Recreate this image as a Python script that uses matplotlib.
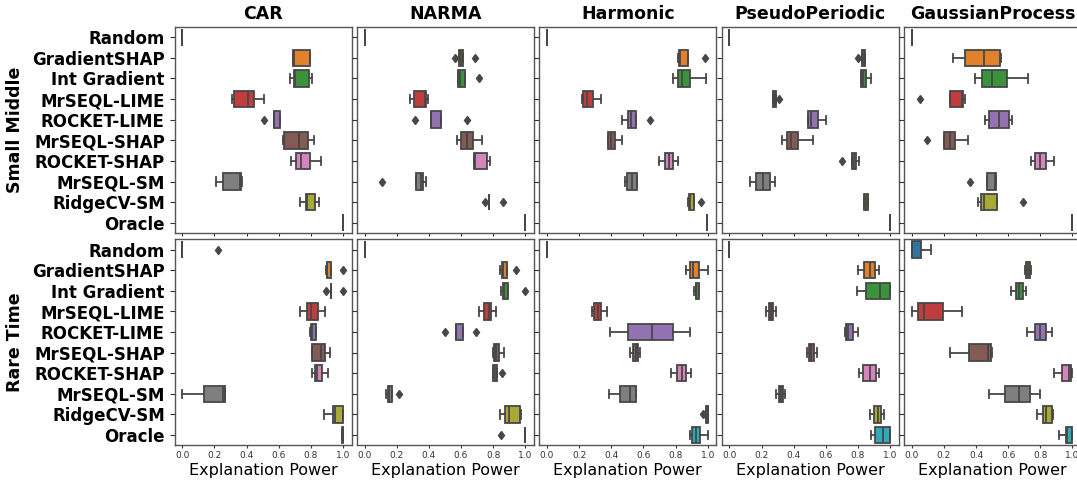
import colorsys
import matplotlib
matplotlib.use("Agg")
import matplotlib.pyplot as plt
import matplotlib.colors as mcolors

methods = ["Random", "GradientSHAP", "Int Gradient", "MrSEQL-LIME", "ROCKET-LIME",
           "MrSEQL-SHAP", "ROCKET-SHAP", "MrSEQL-SM", "RidgeCV-SM", "Oracle"]
datasets = ["CAR", "NARMA", "Harmonic", "PseudoPeriodic", "GaussianProcess"]
row_names = ["Small Middle", "Rare Time"]

# each row: (whislo, q1, median, q3, whishi, fliers), one per method
car_small = [
    (0, 0, 0, 0, 0, []),
    (0.688, 0.69, 0.697, 0.797, 0.797, []),
    (0.67, 0.697, 0.70, 0.786, 0.807, []),
    (0.307, 0.322, 0.407, 0.444, 0.506, []),
    (0.573, 0.573, 0.573, 0.608, 0.608, [0.51]),
    (0.629, 0.633, 0.724, 0.784, 0.822, []),
    (0.678, 0.707, 0.739, 0.797, 0.865, []),
    (0.21, 0.253, 0.36, 0.365, 0.37, []),
    (0.73, 0.772, 0.775, 0.828, 0.849, []),
    (1, 1, 1, 1, 1, []),
]
narma_small = [
    (0, 0, 0, 0, 0, []),
    (0.589, 0.589, 0.60, 0.61, 0.61, [0.56, 0.689]),
    (0.583, 0.583, 0.595, 0.624, 0.624, [0.712]),
    (0.282, 0.307, 0.375, 0.382, 0.392, []),
    (0.415, 0.415, 0.415, 0.473, 0.473, [0.311, 0.637]),
    (0.573, 0.602, 0.64, 0.672, 0.73, []),
    (0.678, 0.678, 0.69, 0.763, 0.778, []),
    (0.317, 0.317, 0.35, 0.365, 0.382, [0.108]),
    (0.772, 0.772, 0.772, 0.772, 0.772, [0.751, 0.859]),
    (1, 1, 1, 1, 1, []),
]
harmonic_small = [
    (0, 0, 0, 0, 0, []),
    (0.813, 0.822, 0.825, 0.88, 0.88, [0.985]),
    (0.782, 0.817, 0.838, 0.89, 0.988, []),
    (0.218, 0.226, 0.247, 0.284, 0.336, []),
    (0.465, 0.502, 0.52, 0.552, 0.552, [0.639]),
    (0.38, 0.38, 0.40, 0.425, 0.467, []),
    (0.697, 0.734, 0.759, 0.786, 0.813, []),
    (0.488, 0.496, 0.529, 0.562, 0.562, []),
    (0.878, 0.886, 0.89, 0.913, 0.913, [0.956]),
    (0.998, 0.998, 0.998, 0.998, 0.998, []),
]
pseudo_small = [
    (0, 0, 0, 0, 0, []),
    (0.827, 0.827, 0.835, 0.846, 0.846, [0.802]),
    (0.817, 0.817, 0.83, 0.848, 0.881, []),
    (0.271, 0.271, 0.28, 0.288, 0.288, [0.306]),
    (0.49, 0.492, 0.51, 0.552, 0.604, []),
    (0.327, 0.358, 0.385, 0.427, 0.523, []),
    (0.76, 0.76, 0.775, 0.79, 0.804, [0.70]),
    (0.129, 0.167, 0.208, 0.252, 0.283, []),
    (0.838, 0.838, 0.85, 0.862, 0.862, []),
    (1, 1, 1, 1, 1, []),
]
gp_small = [
    (0, 0, 0, 0, 0, []),
    (0.258, 0.329, 0.448, 0.546, 0.556, []),
    (0.392, 0.44, 0.502, 0.592, 0.721, []),
    (0.235, 0.235, 0.31, 0.32, 0.333, [0.054]),
    (0.456, 0.479, 0.544, 0.602, 0.623, []),
    (0.198, 0.198, 0.235, 0.269, 0.348, [0.092]),
    (0.742, 0.767, 0.80, 0.838, 0.883, []),
    (0.467, 0.467, 0.52, 0.525, 0.527, [0.36]),
    (0.413, 0.429, 0.452, 0.529, 0.529, [0.694]),
    (1, 1, 1, 1, 1, []),
]
car_rare = [
    (0, 0, 0, 0, 0, [0.224]),
    (0.894, 0.898, 0.90, 0.927, 0.927, [1.0]),
    (0.925, 0.925, 0.925, 0.925, 0.925, [0.894, 1.0]),
    (0.73, 0.775, 0.80, 0.842, 0.89, []),
    (0.795, 0.80, 0.81, 0.832, 0.832, []),
    (0.805, 0.809, 0.861, 0.888, 0.917, []),
    (0.805, 0.828, 0.84, 0.871, 0.907, []),
    (0.0, 0.133, 0.255, 0.266, 0.266, []),
    (0.882, 0.938, 0.95, 1.0, 1.0, []),
    (0.995, 0.995, 1.0, 1.0, 1.0, []),
]
narma_rare = [
    (0, 0, 0, 0, 0, []),
    (0.84, 0.855, 0.86, 0.886, 0.886, [0.944]),
    (0.85, 0.859, 0.865, 0.89, 0.89, [1.0]),
    (0.71, 0.745, 0.776, 0.788, 0.817, []),
    (0.571, 0.571, 0.571, 0.61, 0.61, [0.498, 0.695]),
    (0.80, 0.803, 0.815, 0.838, 0.869, []),
    (0.80, 0.80, 0.81, 0.822, 0.822, [0.853]),
    (0.131, 0.143, 0.15, 0.17, 0.17, [0.216]),
    (0.842, 0.873, 0.898, 0.967, 0.971, []),
    (1, 1, 1, 1, 1, [0.849]),
]
harmonic_rare = [
    (0, 0, 0, 0, 0, []),
    (0.867, 0.888, 0.911, 0.946, 1.0, []),
    (0.917, 0.925, 0.93, 0.948, 0.948, []),
    (0.279, 0.291, 0.316, 0.339, 0.374, []),
    (0.391, 0.505, 0.651, 0.786, 0.89, []),
    (0.518, 0.536, 0.551, 0.565, 0.576, []),
    (0.769, 0.809, 0.84, 0.863, 0.898, []),
    (0.385, 0.457, 0.514, 0.553, 0.555, []),
    (0.99, 0.99, 1.0, 1.0, 1.0, [0.971]),
    (0.888, 0.902, 0.929, 0.952, 1.0, []),
]
pseudo_rare = [
    (0, 0, 0, 0, 0, []),
    (0.80, 0.838, 0.873, 0.904, 0.929, []),
    (0.792, 0.85, 0.936, 1.0, 1.0, []),
    (0.229, 0.245, 0.26, 0.272, 0.293, []),
    (0.721, 0.728, 0.738, 0.769, 0.80, []),
    (0.484, 0.495, 0.51, 0.526, 0.545, []),
    (0.809, 0.83, 0.873, 0.913, 0.931, []),
    (0.293, 0.306, 0.32, 0.331, 0.349, []),
    (0.875, 0.902, 0.923, 0.944, 0.96, []),
    (0.884, 0.904, 0.954, 1.0, 1.0, []),
]
gp_rare = [
    (0, 0, 0, 0.058, 0.12, []),
    (0.705, 0.713, 0.725, 0.735, 0.742, []),
    (0.615, 0.647, 0.667, 0.69, 0.711, []),
    (0.0, 0.04, 0.077, 0.193, 0.31, []),
    (0.719, 0.765, 0.798, 0.838, 0.871, []),
    (0.237, 0.356, 0.474, 0.491, 0.501, []),
    (0.888, 0.933, 0.977, 0.992, 1.0, []),
    (0.478, 0.578, 0.667, 0.736, 0.798, []),
    (0.778, 0.817, 0.836, 0.873, 0.881, []),
    (0.917, 0.958, 0.967, 1.0, 1.0, []),
]

panels = [
    [car_small, narma_small, harmonic_small, pseudo_small, gp_small],
    [car_rare, narma_rare, harmonic_rare, pseudo_rare, gp_rare],
]


def desat(c, prop=0.75):
    # same idea as seaborn's desaturate for boxplot fills
    h, l, s = colorsys.rgb_to_hls(*mcolors.to_rgb(c))
    return colorsys.hls_to_rgb(h, l, s * prop)


palette = [desat(c) for c in plt.get_cmap("tab10").colors]
LINE = "#474747"

fig = plt.figure(figsize=(10.77, 4.82), dpi=100)
W, H = 1077.0, 482.0
col_left = [174.5, 356.8, 539.2, 721.6, 904.0]
ax_w = 177.0
row_top = [27.0, 239.3]
ax_h = 206.0

for r in range(2):
    for c in range(5):
        ax = fig.add_axes([col_left[c] / W, 1 - (row_top[r] + ax_h) / H, ax_w / W, ax_h / H])
        stats = []
        for lo, q1, med, q3, hi, fl in panels[r][c]:
            stats.append(dict(whislo=lo, q1=q1, med=med, q3=q3, whishi=hi, fliers=fl))
        bp = ax.bxp(stats, positions=range(len(methods)), widths=0.8,
                    orientation="horizontal", patch_artist=True,
                    boxprops=dict(edgecolor=LINE, linewidth=1.3),
                    medianprops=dict(color=LINE, linewidth=1.3),
                    whiskerprops=dict(color=LINE, linewidth=1.3),
                    capprops=dict(color=LINE, linewidth=1.3),
                    flierprops=dict(marker="d", markersize=4.5, markerfacecolor=LINE,
                                    markeredgecolor=LINE, linestyle="none"))
        for i, box in enumerate(bp["boxes"]):
            box.set_facecolor(palette[i])

        ax.set_xlim(-0.0485, 1.053)
        ax.set_ylim(9.5, -0.5)
        ax.set_xticks([0, 0.2, 0.4, 0.6, 0.8, 1.0])
        ax.set_yticks(range(len(methods)))
        ax.tick_params(colors="#333333", labelsize=6.5, width=0.8)
        ax.tick_params(axis="x", length=2.5, pad=1.5)
        ax.tick_params(axis="y", length=3.5)
        for s in ax.spines.values():
            s.set_color("#555555")
            s.set_linewidth(1.0)

        if c == 0:
            ax.set_yticklabels(methods, fontsize=12, fontweight="bold", color="black")
        else:
            ax.set_yticklabels([])
        if r == 0:
            ax.set_xticklabels([])
            ax.set_title(datasets[c], fontsize=12.5, fontweight="bold", pad=6)
        else:
            ax.set_xticklabels(["0.0", "0.2", "0.4", "0.6", "0.8", "1.0"])
            ax.set_xlabel("Explanation Power", fontsize=11.5, labelpad=2)

for r in range(2):
    yc = row_top[r] + ax_h / 2
    fig.text(15 / W, 1 - yc / H, row_names[r], rotation=90, ha="center", va="center",
             fontsize=12.5, fontweight="bold")

fig.savefig("out.png", dpi=100)
